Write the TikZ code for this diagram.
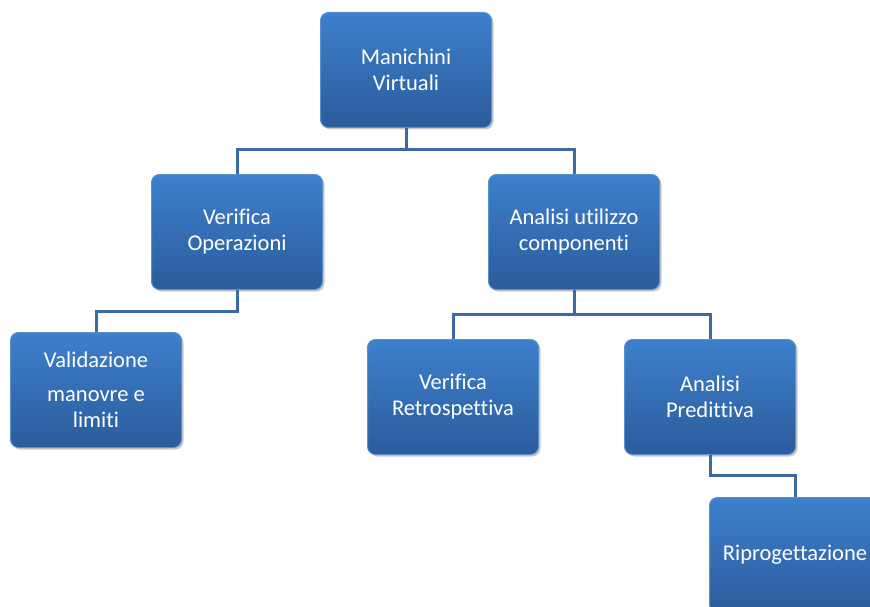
\documentclass[tikz,border=0pt]{standalone}
\usepackage{fontspec}
\setmainfont{Carlito}[Ligatures=NoCommon]
\usetikzlibrary{shadows}
\definecolor{boxtop}{HTML}{3D80CC}
\definecolor{boxbot}{HTML}{2B5C9C}
\definecolor{boxedge}{HTML}{5A8FD0}
\definecolor{linkcol}{HTML}{3C6AA3}
\tikzset{
  x=1pt, y=-1pt,
  box/.style={rectangle, rounded corners=8pt, minimum width=171pt, minimum height=115pt,
    top color=boxtop, bottom color=boxbot, draw=boxedge, line width=1pt,
    text=white, align=center, inner sep=2pt,
    font=\fontsize{22.5}{26}\selectfont,
    drop shadow={shadow xshift=2pt, shadow yshift=-2pt, opacity=0.35, fill=black!60}},
  link/.style={draw=linkcol, line width=3pt}
}
\begin{document}
\begin{tikzpicture}
\useasboundingbox (0,0) rectangle (870,607);
\node[box] (mv) at (406,70) {Manichini\\Virtuali};
\node[box] (vo) at (237,232) {Verifica\\Operazioni};
\node[box] (au) at (574,232) {Analisi utilizzo\\componenti};
\node[box] (vm) at (96,390) {Validazione\\[8pt]manovre e\\limiti};
\node[box] (vr) at (453,397) {Verifica\\Retrospettiva};
\node[box] (ap) at (710,397) {Analisi\\Predittiva};
\node[box] (rp) at (795,555) {Riprogettazione};
\draw[link] (mv.south) -- ++(0,22) -| (vo.north);
\draw[link] (mv.south) -- ++(0,22) -| (au.north);
\draw[link] (vo.south) -- ++(0,21) -| (vm.north);
\draw[link] (au.south) -- ++(0,24) -| (vr.north);
\draw[link] (au.south) -- ++(0,24) -| (ap.north);
\draw[link] (ap.south) -- ++(0,20) -| (rp.north);
\end{tikzpicture}
\end{document}
